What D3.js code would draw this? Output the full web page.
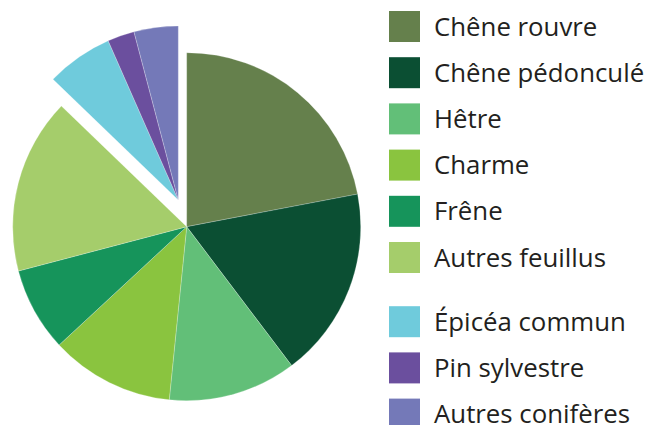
<!DOCTYPE html>
<html>
<head>
<meta charset="utf-8">
<script src="https://cdn.jsdelivr.net/npm/d3@7"></script>
<style>
  body { margin: 0; background: #fff; }
  text { font-family: "Open Sans", sans-serif; }
</style>
</head>
<body>
<script>
var width = 653,
    height = 425;

// essences (feuillus puis résineux)
var species = ['Chêne rouvre', 'Chêne pédonculé', 'Hêtre', 'Charme', 'Frêne', 'Autres feuillus',
               'Épicéa commun', 'Pin sylvestre', 'Autres conifères'];
var shares = [22.0, 17.7, 11.9, 11.5, 7.8, 16.3, 6.2, 2.5, 4.1];
var groups = ['feuillus', 'feuillus', 'feuillus', 'feuillus', 'feuillus', 'feuillus',
              'coniferes', 'coniferes', 'coniferes'];
var colors = ['#65804c', '#0b4f33', '#62bf78', '#8ac43f', '#16945b', '#a5cd6b',
              '#6fcbdc', '#6b4f9e', '#7479b8'];

var svg = d3.select('body')
  .append('svg')
  .attr('width', width)
  .attr('height', height);

var cx = 186.7, cy = 226.7, r = 174;

var color = d3.scaleOrdinal()
  .domain(species)
  .range(colors);

var pie = d3.pie()
  .sort(null)
  .value(function(d) { return d.value; });

var arc = d3.arc()
  .innerRadius(0)
  .outerRadius(r);

var data = species.map(function(s, i) {
  return { name: s, value: shares[i], group: groups[i] };
});

var arcs = pie(data);

// conifères détachés du reste
var explode = { feuillus: [0, 0], coniferes: [-8.4, -26.7] };

var pieG = svg.append('g')
  .attr('transform', 'translate(' + cx + ',' + cy + ')');

pieG.selectAll('path')
  .data(arcs)
  .enter()
  .append('path')
  .attr('d', arc)
  .attr('transform', function(d) {
    var o = explode[d.data.group];
    return 'translate(' + o[0] + ',' + o[1] + ')';
  })
  .attr('fill', function(d) { return color(d.data.name); })
  .attr('stroke', '#fff')
  .attr('stroke-width', 0.4)
  .attr('stroke-opacity', 0.6);

// légende
function legendY(i) {
  return 11 + i * 46.2 + (groups[i] === 'coniferes' ? 18 : 0);
}

var legend = svg.append('g')
  .attr('class', 'legend')
  .attr('transform', 'translate(389,0)');

var items = legend.selectAll('g')
  .data(species)
  .enter()
  .append('g')
  .attr('transform', function(d, i) { return 'translate(0,' + legendY(i) + ')'; });

items.append('rect')
  .attr('width', 31)
  .attr('height', 31)
  .attr('fill', function(d) { return color(d); });

items.append('text')
  .attr('x', 45)
  .attr('y', 24.5)
  .attr('fill', '#231f20')
  .style('font-size', '25.8px')
  .text(function(d) { return d; });
</script>
</body>
</html>
